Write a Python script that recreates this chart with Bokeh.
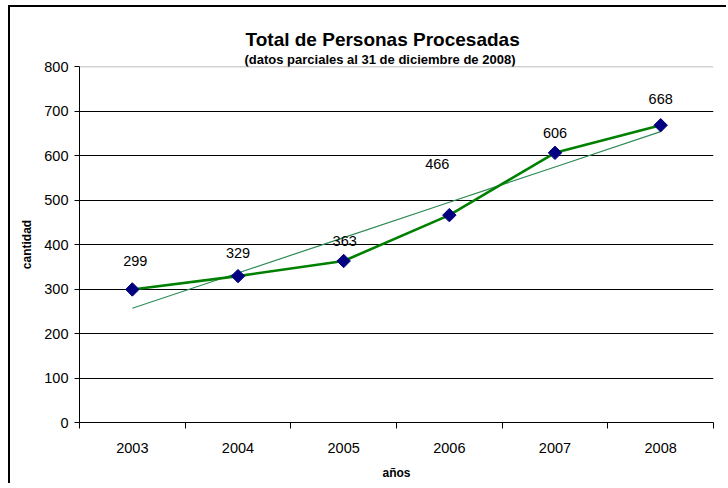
import numpy as np
from bokeh.plotting import figure
from bokeh.models import (ColumnDataSource, Range1d, FixedTicker, Span, Title,
                          LabelSet)
from bokeh.core.properties import value
from bokeh.embed import file_html
from bokeh.resources import INLINE

# ---- data ----
years = ["2003", "2004", "2005", "2006", "2007", "2008"]
personas = [299, 329, 363, 466, 606, 668]
y_ticks = [0, 100, 200, 300, 400, 500, 600, 700, 800]
title_text = "Total de Personas Procesadas"
subtitle_text = "(datos parciales al 31 de diciembre de 2008)"
x_label = "años"
y_label = "cantidad"

# ---- style: pixel offsets of each data label from its point ----
label_dx = [3, 0, 1, -12, 0, 0]
label_dy = [23, 18, 15, 46, 15, 21]

FONT = "Liberation Sans"

n = len(years)
xc = [i + 0.5 for i in range(n)]
src = ColumnDataSource(dict(x=xc, y=personas, lbl=[str(v) for v in personas],
                            dx=label_dx, dy=label_dy))

# linear trend computed from the data
coef = np.polyfit(np.arange(n), np.array(personas, dtype=float), 1)
trend_y = list(np.polyval(coef, np.arange(n)))

p = figure(width=718, height=478, output_backend="svg", toolbar_location=None,
           x_range=Range1d(0, n), y_range=Range1d(y_ticks[0], y_ticks[-1]),
           min_border_left=69, min_border_right=15, min_border_top=59,
           min_border_bottom=63)
p.styles = {"border-left": "2px solid black", "border-top": "2px solid black",
            "margin-left": "8px", "margin-top": "5px"}
p.outline_line_color = None
p.background_fill_color = "white"
p.border_fill_color = "white"

# titles: main title is p.title, subtitle added as an extra Title
p.title.text = title_text
p.title.align = "left"
p.title.offset = 166
p.title.standoff = 0
p.title.text_font = FONT
p.title.text_font_size = "19px"
p.title.text_font_style = "bold"
p.title.text_color = "black"
p.add_layout(Title(text=subtitle_text, align="left", offset=165, standoff=0,
                   text_font=FONT, text_font_size="13px",
                   text_font_style="bold", text_color="black"), "above")

# grid
p.xgrid.visible = False
p.ygrid.ticker = FixedTicker(ticks=y_ticks[1:-1])
p.ygrid.grid_line_color = "black"
p.ygrid.grid_line_width = 1
p.add_layout(Span(location=y_ticks[-1], dimension="width",
                  line_color="#a6a6a6", line_width=1.5))

# axes
p.yaxis.ticker = FixedTicker(ticks=y_ticks)
p.yaxis.major_tick_out = 5
p.yaxis.major_tick_in = 0
p.yaxis.minor_tick_line_color = None
p.yaxis.major_label_standoff = 6
p.yaxis.axis_label = y_label
p.yaxis.axis_label_standoff = 7

p.xaxis.ticker = FixedTicker(ticks=xc, minor_ticks=list(range(n + 1)))
p.xaxis.major_label_overrides = {x: y for x, y in zip(xc, years)}
p.xaxis.major_tick_out = 0
p.xaxis.major_tick_in = 0
p.xaxis.minor_tick_out = 6
p.xaxis.minor_tick_in = 0
p.xaxis.minor_tick_line_color = "black"
p.xaxis.major_label_standoff = 14
p.xaxis.axis_label = x_label
p.xaxis.axis_label_standoff = 10

for ax in (p.xaxis[0], p.yaxis[0]):
    ax.axis_line_color = "black"
    ax.axis_line_width = 1
    ax.major_tick_line_color = "black"
    ax.major_label_text_font = FONT
    ax.major_label_text_font_size = "14.5px"
    ax.major_label_text_color = "black"
    ax.axis_label_text_font = FONT
    ax.axis_label_text_font_size = "12px"
    ax.axis_label_text_font_style = "bold"
    ax.axis_label_text_color = "black"

# trend line, series line, markers
p.line(xc, trend_y, line_color="#2E8B57", line_width=1.2)
p.line("x", "y", source=src, line_color="#008000", line_width=2.6)
p.scatter("x", "y", source=src, marker="square", angle=np.pi / 4, size=9.5,
          fill_color="#000080", line_color="#000080")

labels = LabelSet(x="x", y="y", text="lbl", source=src,
                  x_offset="dx", y_offset="dy",
                  text_align="center", text_baseline="alphabetic",
                  text_font=value(FONT), text_font_size="14.5px",
                  text_color="black")
p.add_layout(labels)

open("out.html", "w").write(file_html(p, INLINE))
